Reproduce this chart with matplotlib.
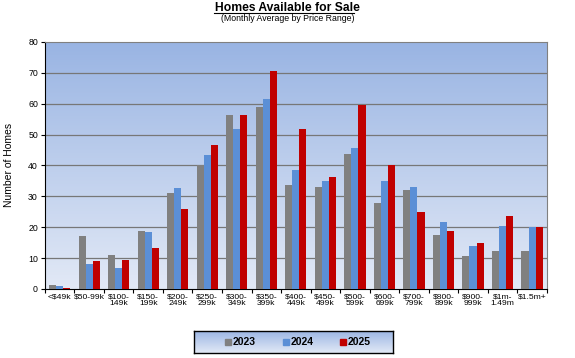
import numpy as np
import matplotlib
matplotlib.use("Agg")
import matplotlib.pyplot as plt
from matplotlib.patches import Rectangle

plt.rcParams["font.family"] = ["Liberation Sans", "DejaVu Sans"]

categories = ["<$49k", "$50-99k", "$100-\n149k", "$150-\n199k", "$200-\n249k",
              "$250-\n299k", "$300-\n349k", "$350-\n399k", "$400-\n449k",
              "$450-\n499k", "$500-\n599k", "$600-\n699k", "$700-\n799k",
              "$800-\n899k", "$900-\n999k", "$1m-\n1.49m", "$1.5m+"]
years = ["2023", "2024", "2025"]
homes_2023 = [1.4, 17.2, 11.1, 18.8, 31.1, 40.1, 56.3, 58.9, 33.7, 33.1, 43.7,
              27.9, 32.1, 17.6, 10.8, 12.4, 12.4]
homes_2024 = [1.1, 8.2, 6.9, 18.5, 32.7, 43.4, 51.8, 61.5, 38.6, 35.0, 45.7,
              35.0, 33.1, 21.8, 14.0, 20.5, 20.1]
homes_2025 = [0.4, 8.9, 9.3, 13.4, 26.0, 46.6, 56.3, 70.5, 51.8, 36.4, 59.7,
              40.0, 25.0, 18.8, 15.0, 23.7, 20.1]
colors = ["#808080", "#5b8fd6", "#c00000"]

fig = plt.figure(figsize=(5.75, 3.58), dpi=100)
ax = fig.add_axes([0.078, 0.193, 0.873, 0.690])

# gradient background
grad = np.linspace(0, 1, 256).reshape(-1, 1)
cmap = matplotlib.colors.LinearSegmentedColormap.from_list(
    "bg", ["#e2e9f6", "#99b4e3"])
n = len(categories)
ax.imshow(grad, extent=[-0.5, n - 0.5, 0, 80], origin="lower", aspect="auto",
          cmap=cmap, zorder=0)

x = np.arange(n)
w = 0.24
for i, vals in enumerate([homes_2023, homes_2024, homes_2025]):
    ax.bar(x + (i - 1) * w, vals, w, color=colors[i], zorder=3, label=years[i])

ax.set_xlim(-0.5, n - 0.5)
ax.set_ylim(0, 80)
ax.set_yticks(range(0, 81, 10))
for y in range(10, 80, 10):
    ax.axhline(y, color="#777777", lw=0.9, zorder=1)

ax.set_xticks(x)
ax.set_xticklabels(categories, fontsize=6.1, linespacing=1.0)
ax.tick_params(axis="x", length=0, pad=3)
ax.set_xticks(np.arange(-0.5, n, 1), minor=True)
ax.tick_params(axis="x", which="minor", length=3, width=0.8, direction="out")
ax.tick_params(axis="y", labelsize=6.3, length=3, width=0.8, pad=2)

for side in ["top", "right"]:
    ax.spines[side].set_color("#808080")
ax.spines["left"].set_color("black")
ax.spines["bottom"].set_color("black")
ax.set_ylabel("Number of Homes", fontsize=7.5, labelpad=10)

fig.text(0.5, 0.979, "Homes Available for Sale", ha="center", va="center",
         fontsize=8.7, fontweight="bold")
fig.add_artist(plt.Line2D([0.373, 0.616], [0.964, 0.964], color="black", lw=0.8))
fig.text(0.5, 0.948, "(Monthly Average by Price Range)", ha="center",
         va="center", fontsize=6.3)

# legend box
lax = fig.add_axes([0.338, 0.014, 0.345, 0.062])
lax.imshow(grad, extent=[0, 1, 0, 1], origin="lower", aspect="auto",
           cmap=cmap, zorder=0)
lax.set_xlim(0, 1)
lax.set_ylim(0, 1)
lax.set_xticks([])
lax.set_yticks([])
for s in lax.spines.values():
    s.set_linewidth(1.0)
for i, yr in enumerate(years):
    px = 0.155 + i * 0.29
    lax.add_patch(Rectangle((px, 0.38), 0.03, 0.26, color=colors[i]))
    lax.text(px + 0.04, 0.5, yr, fontsize=7.5, fontweight="bold", va="center")

fig.savefig("out.png", dpi=100)
